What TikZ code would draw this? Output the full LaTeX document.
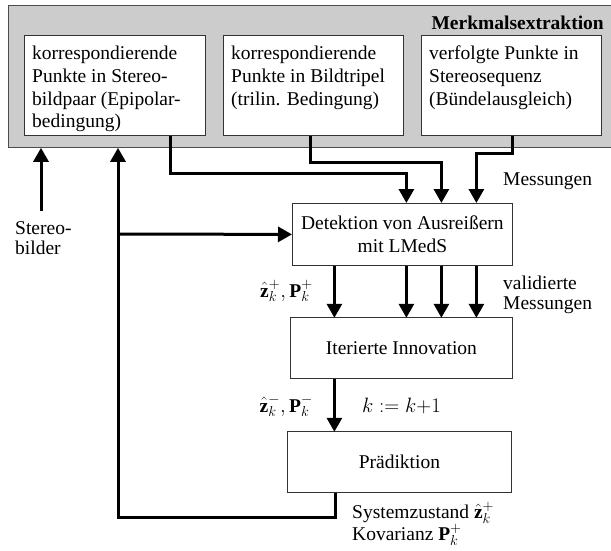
\documentclass[tikz,border=0pt]{standalone}
\usepackage{fontspec}
\setmainfont{Liberation Serif}
\usetikzlibrary{arrows.meta,calc}
\begin{document}
\begin{tikzpicture}[x=1pt,y=-1pt,
  font=\fontsize{19.5}{22.7}\selectfont,
  grayarea/.style={draw=black!70, line width=0.8pt, fill=black!20, inner sep=0pt, anchor=north west},
  box/.style={draw=black!80, line width=0.8pt, fill=white, inner sep=0pt, anchor=north west},
  boxtext/.style={inner sep=0pt, align=left, anchor=north west},
  lbl/.style={inner sep=0pt, align=left, font=\fontsize{19.5}{20}\selectfont},
  conn/.style={line width=3pt, -{Triangle[length=14pt,width=15pt]}},
]
\path[use as bounding box, clip] (0,0) rectangle (611,550);
\fill[white] (0,0) rectangle (611,550);

% feature extraction area
\node[grayarea, minimum width=620pt, minimum height=142pt] (fe) at (8,5) {};
\node[inner sep=0pt, anchor=east, font=\fontsize{19.5}{22.7}\selectfont\bfseries] (title) at (604,23) {Merkmalsextraktion};

\node[box, minimum width=181pt, minimum height=100pt] (b1) at (24,35) {};
\node[box, minimum width=180pt, minimum height=100pt] (b2) at (223,35) {};
\node[box, minimum width=180pt, minimum height=100pt] (b3) at (421,35) {};
\node[boxtext] (t1) at (32,46) {korrespondierende\\Punkte in Stereo-\\bildpaar (Epipolar-\\bedingung)};
\node[boxtext] (t2) at (231,46) {korrespondierende\\Punkte in Bildtripel\\(trilin. Bedingung)};
\node[boxtext] (t3) at (429,46) {verfolgte Punkte in\\Stereosequenz\\(Bündelausgleich)};

% processing boxes
\node[box, align=center, minimum width=220pt, minimum height=62pt] (det) at (292,203) {Detektion von Ausreißern\\mit LMedS};
\node[box, align=center, minimum width=222pt, minimum height=61pt] (inn) at (290,317) {Iterierte Innovation};
\node[box, align=center, minimum width=224pt, minimum height=61pt] (pra) at (287,431) {Prädiktion};

% labels
\node[lbl, anchor=base west] (mess) at (503,185) {Messungen};
\node[lbl, anchor=north west] (val) at (503,276) {validierte\\Messungen};
\node[lbl, anchor=base east] (zp) at (313,297) {$\hat{\mathbf{z}}_k^+,\mathbf{P}_k^+$};
\node[lbl, anchor=base east] (zm) at (313,412) {$\hat{\mathbf{z}}_k^-,\mathbf{P}_k^-$};
\node[lbl, anchor=base west] (kk) at (362,412) {$k := k{+}1$};
\node[lbl, anchor=north west] (sys) at (352,502) {Systemzustand $\hat{\mathbf{z}}_k^+$\\Kovarianz $\mathbf{P}_k^+$};
\node[lbl, anchor=north west] (stlab) at (15,221) {Stereo-\\bilder};

% connectors from feature boxes to detection
\draw[conn] ([xshift=-35pt]b1.south east) -- ++(0,38) -| ([xshift=4pt]det.north);
\draw[conn] ([xshift=-3pt]b2.south) -- ++(0,27) -| ([xshift=39pt]det.north);
\draw[conn] ([xshift=1pt]b3.south) -- ++(0,18) -| ([xshift=74pt]det.north);

% detection to innovation
\draw[conn] ([xshift=-68pt]det.south) -- ++(0,52);
\draw[conn] ([xshift=4pt]det.south) -- ++(0,52);
\draw[conn] ([xshift=39pt]det.south) -- ++(0,52);
\draw[conn] ([xshift=74pt]det.south) -- ++(0,52);

% innovation to prediction
\draw[conn] ([xshift=-67pt]inn.south) -- ++(0,53);

% feedback
\draw[conn] ([xshift=-64pt]pra.south) -- ++(0,25) -| ([xshift=110pt]fe.south west);
\coordinate (jn) at (118,234);
\draw[conn] (jn) -- (det.west);

% stereo images input
\coordinate (st) at (41,211);
\draw[conn] (st) -- (st |- fe.south);
\end{tikzpicture}
\end{document}
